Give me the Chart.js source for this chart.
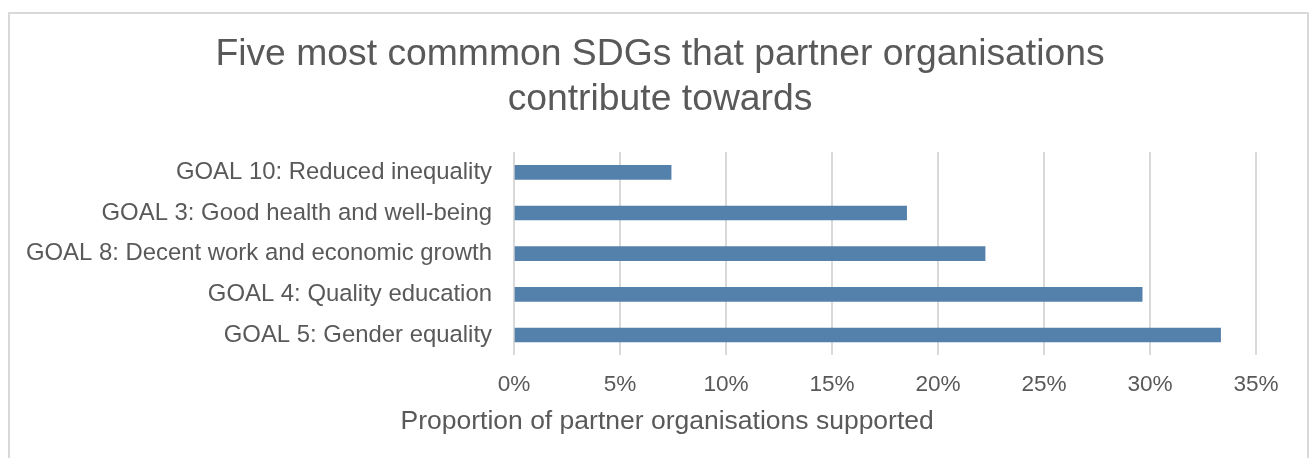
<!DOCTYPE html>
<html>
<head>
<meta charset="utf-8">
<script src="https://cdn.jsdelivr.net/npm/chart.js@4.4.1/dist/chart.umd.min.js"></script>
<style>
  html,body{ margin:0; padding:0; background:#fff; overflow:hidden; }
  #frame{ position:absolute; left:8px; top:12px; width:1301px; height:500px; box-sizing:border-box; border:2px solid #d9d9d9; }
  #wrap{ position:absolute; left:0; top:0; width:1311px; height:458px; }
</style>
</head>
<body>
<div id="frame"></div>
<div id="wrap"><canvas id="sdgChart"></canvas></div>
<script>
const goals = [
  "GOAL 10: Reduced inequality",
  "GOAL 3: Good health and well-being",
  "GOAL 8: Decent work and economic growth",
  "GOAL 4: Quality education",
  "GOAL 5: Gender equality"
];
const shares = [7.41, 18.52, 22.22, 29.63, 33.33];
const xTickLabels = ["0%", "5%", "10%", "15%", "20%", "25%", "30%", "35%"];
const chartTitle = ["Five most commmon SDGs that partner organisations", "contribute towards"];
const xAxisTitle = "Proportion of partner organisations supported";

const grey = "#595959";
const fontFam = "'Liberation Sans', Arial, sans-serif";

// axis title sits left of the plot in the original, so draw it by hand
const axisTitlePlugin = {
  id: "axisTitle",
  afterDraw(chart){
    const ctx = chart.ctx;
    ctx.save();
    ctx.font = "26.5px " + fontFam;
    ctx.fillStyle = grey;
    ctx.textAlign = "left";
    ctx.textBaseline = "middle";
    ctx.fillText(xAxisTitle, chart.chartArea.left - 113.5, chart.chartArea.bottom + 66.5);
    ctx.restore();
  }
};

new Chart(document.getElementById("sdgChart"), {
  type: "bar",
  data: {
    labels: goals,
    datasets: [{
      data: shares,
      backgroundColor: "#5481ab",
      borderWidth: 0,
      barThickness: 14
    }]
  },
  options: {
    indexAxis: "y",
    responsive: true,
    maintainAspectRatio: false,
    animation: false,
    layout: { padding: { left: 27, right: 18, top: 0, bottom: 43.5 } },
    plugins: {
      legend: { display: false },
      tooltip: { enabled: false },
      title: {
        display: true,
        text: chartTitle,
        color: grey,
        font: { family: fontFam, size: 37.3, weight: "normal", lineHeight: 1.206 },
        padding: { top: 32.5, bottom: 29.5 }
      }
    },
    scales: {
      x: {
        min: 0, max: 35,
        grid: { color: "#d9d9d9", lineWidth: 2, drawTicks: false },
        border: { display: false },
        ticks: {
          stepSize: 5,
          padding: 16,
          maxRotation: 0,
          color: grey,
          font: { family: fontFam, size: 22.6 },
          callback: (v, i) => xTickLabels[i]
        }
      },
      y: {
        grid: { display: false, drawTicks: false },
        border: { display: false },
        ticks: { padding: 22, color: grey, font: { family: fontFam, size: 23.9 } },
        afterFit: (s) => { s.width = 487; s.paddingTop = 0; s.paddingBottom = 0; }
      },
      // empty spacer on the right so the plot ends where the original does
      spacer: {
        type: "linear",
        position: "right",
        grid: { display: false, drawTicks: false },
        border: { display: false },
        ticks: { display: false },
        afterFit: (s) => { s.width = 37; }
      }
    }
  },
  plugins: [axisTitlePlugin]
});
</script>
</body>
</html>
